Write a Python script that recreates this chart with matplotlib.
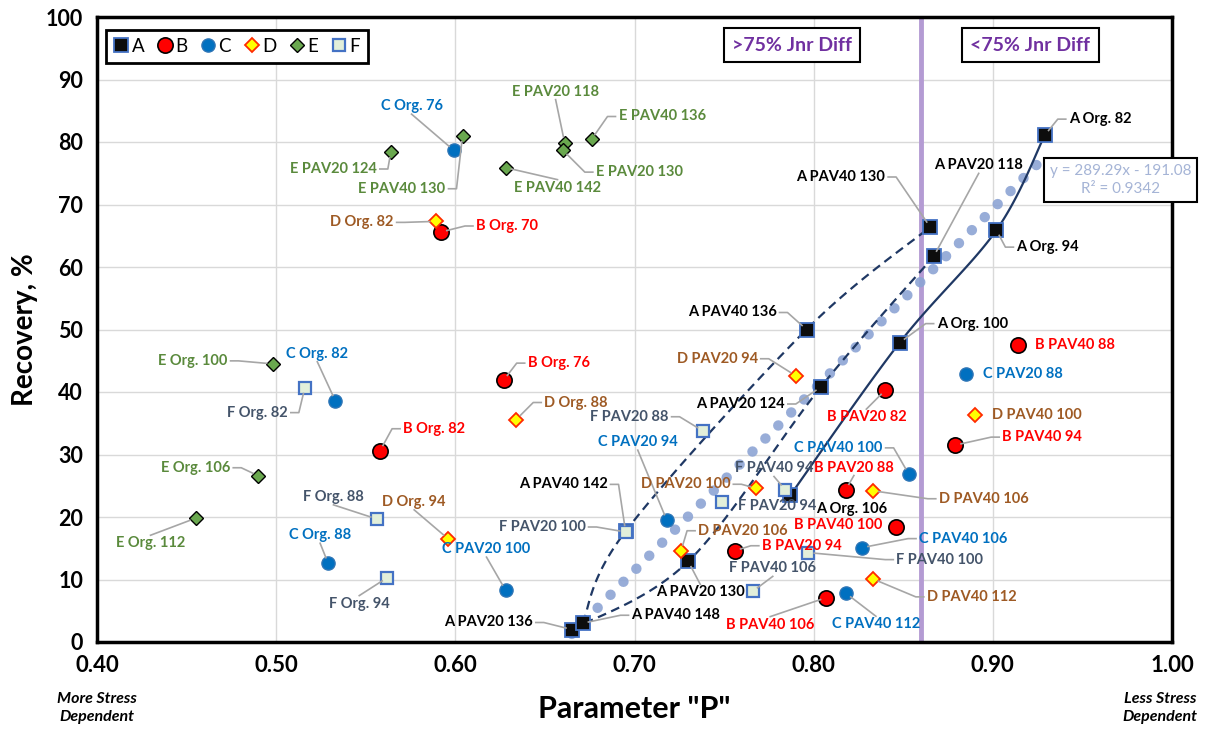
import numpy as np
import matplotlib
matplotlib.use('Agg')
import matplotlib.pyplot as plt
import matplotlib.transforms as mtransforms

plt.rcParams['font.family'] = ['Lato', 'DejaVu Sans']

# Recovery (%) vs parameter P for the six binders A-F
a_names = ['A Org. 82', 'A Org. 94', 'A Org. 100', 'A Org. 106',
           'A PAV20 118', 'A PAV20 124', 'A PAV20 130', 'A PAV20 136',
           'A PAV40 130', 'A PAV40 136', 'A PAV40 142', 'A PAV40 148']
a_p = [0.929, 0.902, 0.848, 0.787, 0.867, 0.804, 0.730, 0.665, 0.865, 0.796, 0.695, 0.671]
a_rec = [81.1, 65.9, 47.9, 23.5, 61.7, 40.8, 12.9, 2.0, 66.4, 50.0, 17.7, 3.0]

b_names = ['B Org. 70', 'B Org. 76', 'B Org. 82', 'B PAV20 82', 'B PAV20 88', 'B PAV20 94',
           'B PAV40 88', 'B PAV40 94', 'B PAV40 100', 'B PAV40 106']
b_p = [0.592, 0.627, 0.558, 0.840, 0.818, 0.756, 0.914, 0.879, 0.846, 0.807]
b_rec = [65.6, 41.9, 30.6, 40.3, 24.4, 14.6, 47.5, 31.5, 18.4, 7.1]

c_names = ['C Org. 76', 'C Org. 82', 'C Org. 88', 'C PAV20 88', 'C PAV20 94', 'C PAV20 100',
           'C PAV40 100', 'C PAV40 106', 'C PAV40 112']
c_p = [0.599, 0.533, 0.529, 0.885, 0.718, 0.628, 0.853, 0.827, 0.818]
c_rec = [78.7, 38.6, 12.6, 42.9, 19.5, 8.3, 26.9, 15.1, 7.8]

d_names = ['D Org. 82', 'D Org. 88', 'D Org. 94', 'D PAV20 94', 'D PAV20 100', 'D PAV20 106',
           'D PAV40 100', 'D PAV40 106', 'D PAV40 112']
d_p = [0.589, 0.634, 0.596, 0.790, 0.768, 0.726, 0.890, 0.833, 0.833]
d_rec = [67.3, 35.6, 16.5, 42.6, 24.6, 14.6, 36.3, 24.2, 10.1]

e_names = ['E Org. 100', 'E Org. 106', 'E Org. 112', 'E PAV20 118', 'E PAV20 124', 'E PAV20 130',
           'E PAV40 130', 'E PAV40 136', 'E PAV40 142']
e_p = [0.498, 0.490, 0.455, 0.661, 0.564, 0.660, 0.604, 0.676, 0.628]
e_rec = [44.5, 26.6, 19.8, 79.9, 78.4, 78.7, 81.0, 80.4, 75.9]

f_names = ['F Org. 82', 'F Org. 88', 'F Org. 94', 'F PAV20 88', 'F PAV20 94', 'F PAV20 100',
           'F PAV40 94', 'F PAV40 100', 'F PAV40 106']
f_p = [0.516, 0.556, 0.562, 0.738, 0.749, 0.695, 0.784, 0.797, 0.766]
f_rec = [40.7, 19.7, 10.3, 33.8, 22.4, 17.6, 24.4, 14.3, 8.1]

# binder A aging paths (smoothed lines)
a_org_path = ['A Org. 106', 'A Org. 100', 'A Org. 94', 'A Org. 82']
a_pav20_path = ['A PAV20 136', 'A PAV20 130', 'A PAV20 124', 'A PAV20 118']
a_pav40_path = ['A PAV40 148', 'A PAV40 142', 'A PAV40 136', 'A PAV40 130']

# linear trend of binder A
trend_slope, trend_icpt, trend_r2 = 289.29, -191.08, 0.9342
jnr_split = 0.86

# label placement: offset from marker in pixels, leader style
label_pos = {
    'A Org. 82': (24, 16, 'h'), 'A Org. 94': (20, -17, 'h'), 'A Org. 100': (37, 19, 'h'),
    'A Org. 106': (26, -14, 'n'), 'A PAV20 118': (45, 91, 'v'), 'A PAV20 124': (-36, -17, 'h'),
    'A PAV20 130': (12, -31, 'v'), 'A PAV20 136': (-39, 7, 'h'), 'A PAV40 130': (-45, 50, 'h'),
    'A PAV40 136': (-30, 17, 'h'), 'A PAV40 142': (-18, 47, 'h'), 'A PAV40 148': (49, 8, 'h'),
    'B Org. 70': (35, 6, 'h'), 'B Org. 76': (24, 17, 'h'), 'B Org. 82': (23, 22, 'h'),
    'B PAV20 82': (-19, -27, 'v'), 'B PAV20 88': (8, 22, 'v'), 'B PAV20 94': (27, 5, 'h'),
    'B PAV40 88': (17, 0, 'n'), 'B PAV40 94': (47, 8, 'h'), 'B PAV40 100': (-14, 2, 'n'),
    'B PAV40 106': (-56, -27, 'v'),
    'C Org. 76': (-42, 44, 'v'), 'C Org. 82': (-18, 47, 'v'), 'C Org. 88': (-8, 28, 'v'),
    'C PAV20 88': (17, 0, 'n'), 'C PAV20 94': (-29, 78, 'v'), 'C PAV20 100': (-19, 41, 'v'),
    'C PAV40 100': (-26, 26, 'h'), 'C PAV40 106': (57, 9, 'h'), 'C PAV40 112': (30, -31, 'v'),
    'D Org. 82': (-42, -1, 'h'), 'D Org. 88': (28, 17, 'h'), 'D Org. 94': (-34, 37, 'v'),
    'D PAV20 94': (-38, 17, 'h'), 'D PAV20 100': (-26, 4, 'h'), 'D PAV20 106': (17, 20, 'h'),
    'D PAV40 100': (17, 0, 'n'), 'D PAV40 106': (66, -8, 'h'), 'D PAV40 112': (54, -18, 'h'),
    'E Org. 100': (-45, 3, 'h'), 'E Org. 106': (-28, 8, 'h'), 'E Org. 112': (-45, -25, 'v'),
    'E PAV20 118': (-9, 51, 'v'), 'E PAV20 124': (-14, -17, 'h'), 'E PAV20 130': (33, -22, 'h'),
    'E PAV40 130': (-17, -53, 'h'), 'E PAV40 136': (27, 23, 'h'), 'E PAV40 142': (52, -20, 'v'),
    'F Org. 82': (-17, -25, 'h'), 'F Org. 88': (-43, 22, 'v'), 'F Org. 94': (-28, -26, 'v'),
    'F PAV20 88': (-34, 14, 'h'), 'F PAV20 94': (16, -4, 'n'), 'F PAV20 100': (-40, 5, 'h'),
    'F PAV40 94': (-11, 21, 'v'), 'F PAV40 100': (88, -7, 'h'), 'F PAV40 106': (20, 23, 'v'),
}

series = [
    ('A', a_names, a_p, a_rec, dict(marker='s', ms=10.5, mfc='#0D0D0D', mec='#4472C4', mew=1.3), '#000000'),
    ('B', b_names, b_p, b_rec, dict(marker='o', ms=11, mfc='#FF0000', mec='#000000', mew=1.2), '#FF0000'),
    ('C', c_names, c_p, c_rec, dict(marker='o', ms=9.5, mfc='#0070C0', mec='#2E75B6', mew=1.0), '#0070C0'),
    ('D', d_names, d_p, d_rec, dict(marker='D', ms=7.5, mfc='#FFFF00', mec='#FF2A00', mew=1.3), '#9E5A24'),
    ('E', e_names, e_p, e_rec, dict(marker='D', ms=7.5, mfc='#6AA84F', mec='#000000', mew=1.0), '#5A8A3C'),
    ('F', f_names, f_p, f_rec, dict(marker='s', ms=9, mfc='#E2EFDA', mec='#4472C4', mew=1.6), '#44546A'),
]

fig = plt.figure(figsize=(12.05, 7.32), dpi=100)
ax = fig.add_axes([97 / 1205, 1 - 642 / 732, 1075 / 1205, 625 / 732])
ax.set_xlim(0.40, 1.00)
ax.set_ylim(0, 100)
ax.set_xticks(np.arange(0.40, 1.001, 0.10))
ax.set_xticklabels([f'{v:.2f}' for v in np.arange(0.40, 1.001, 0.10)])
ax.set_yticks(range(0, 101, 10))
ax.grid(True, color='#D9D9D9', lw=1)
ax.set_axisbelow(True)
ax.tick_params(axis='x', length=0, labelsize=16, pad=9)
ax.tick_params(axis='y', length=0, labelsize=15.5, pad=10)
for lab in ax.get_xticklabels() + ax.get_yticklabels():
    lab.set_fontweight('bold')
for sp in ax.spines.values():
    sp.set_linewidth(2.5)
    sp.set_color('black')

ax.set_xlabel('Parameter "P"', fontsize=22, fontweight='bold', labelpad=14)
ax.set_ylabel('Recovery, %', fontsize=20, fontweight='bold', labelpad=6)
fig.text(97 / 1205, 1 - 708 / 732, 'More Stress\nDependent', ha='center', va='center',
         fontsize=11.5, style='italic', fontweight='bold', linespacing=1.45)
fig.text(1160 / 1205, 1 - 708 / 732, 'Less Stress\nDependent', ha='center', va='center',
         fontsize=11.5, style='italic', fontweight='bold', linespacing=1.45)

# Jnr difference split
ax.axvline(jnr_split, color='#B49BD3', lw=3.5, zorder=2)
box = dict(boxstyle='square,pad=0.42', fc='white', ec='black', lw=1.5)
ax.text(0.788, 95.5, '>75% Jnr Diff', ha='center', va='center', fontsize=14,
        fontweight='bold', color='#7030A0', bbox=box, zorder=6)
ax.text(0.921, 95.5, '<75% Jnr Diff', ha='center', va='center', fontsize=14,
        fontweight='bold', color='#7030A0', bbox=box, zorder=6)

# trend line for binder A
tx = np.array([min(a_p), max(a_p)])
ax.plot(tx, trend_slope * tx + trend_icpt, color='#8DA4D4', lw=7.5, alpha=0.9,
        linestyle=(0, (0.01, 1.75)), dash_capstyle='round', zorder=3)
ax.text(0.9715, 73.9, f'y = {trend_slope:.2f}x - {abs(trend_icpt):.2f}\nR² = {trend_r2:.4f}',
        ha='center', va='center', fontsize=11, color='#A5B4D6', linespacing=1.35,
        bbox=dict(boxstyle='square,pad=0.38', fc='white', ec='black', lw=1.5),
        clip_on=False, zorder=7)


def smooth(xs, ys, n=40):
    pts = ax.transData.transform(np.column_stack([xs, ys]))
    P = np.vstack([pts[0], pts, pts[-1]])
    t = np.linspace(0, 1, n)[:, None]
    segs = []
    for i in range(1, len(P) - 2):
        p0, p1, p2, p3 = P[i - 1], P[i], P[i + 1], P[i + 2]
        c1 = p1 + (p2 - p0) / 6
        c2 = p2 - (p3 - p1) / 6
        segs.append((1 - t) ** 3 * p1 + 3 * (1 - t) ** 2 * t * c1 + 3 * (1 - t) * t ** 2 * c2 + t ** 3 * p2)
    return ax.transData.inverted().transform(np.vstack(segs))


a_lookup = dict(zip(a_names, zip(a_p, a_rec)))
for path, ls in [(a_org_path, '-'), (a_pav20_path, (0, (4, 2.5))), (a_pav40_path, (0, (4, 2.5)))]:
    xy = smooth([a_lookup[k][0] for k in path], [a_lookup[k][1] for k in path])
    ax.plot(xy[:, 0], xy[:, 1], color='#1F3864', lw=1.6, linestyle=ls, zorder=4)

handles = []
for key, names, xs, ys, mk, tcol in series:
    h, = ax.plot(xs, ys, linestyle='none', label=key, zorder=5, **mk)
    handles.append(h)


def label(name, x, y, color):
    dx, dy, mode = label_pos[name]
    tr = mtransforms.Affine2D() + mtransforms.ScaledTranslation(x, y, ax.transData)
    if mode == 'v':
        ha = 'center'
    else:
        ha = 'left' if dx > 0 else 'right'
    ax.annotate(name, (x, y), xytext=(dx, dy), textcoords='offset pixels', ha=ha, va='center',
                fontsize=10.5, fontweight='bold', color=color, zorder=6)
    if mode == 'n':
        return
    if mode == 'h':
        s = 1 if dx > 0 else -1
        start = (dx - 3 * s, dy)
        elbow = (dx - 11 * s, dy)
    else:
        start = (dx, dy - 8 if dy > 0 else dy + 8)
        elbow = start
    L = np.hypot(*elbow)
    end = (elbow[0] / L * 6, elbow[1] / L * 6)
    vx = [start[0], elbow[0], end[0]]
    vy = [start[1], elbow[1], end[1]]
    ax.plot(vx, vy, color='#A6A6A6', lw=1.2, transform=tr, zorder=5.5, clip_on=False)


for key, names, xs, ys, mk, tcol in series:
    for n, x, y in zip(names, xs, ys):
        label(n, x, y, tcol)

leg = ax.legend(handles=handles, loc='upper left', bbox_to_anchor=(0.0, 0.995), ncol=6,
                fontsize=13.5, handlelength=0.7, handletextpad=0.2, columnspacing=0.75,
                borderpad=0.45, fancybox=False, framealpha=1, edgecolor='black')
leg.get_frame().set_linewidth(2)
leg.set_zorder(8)

fig.savefig('out.png', dpi=100)
